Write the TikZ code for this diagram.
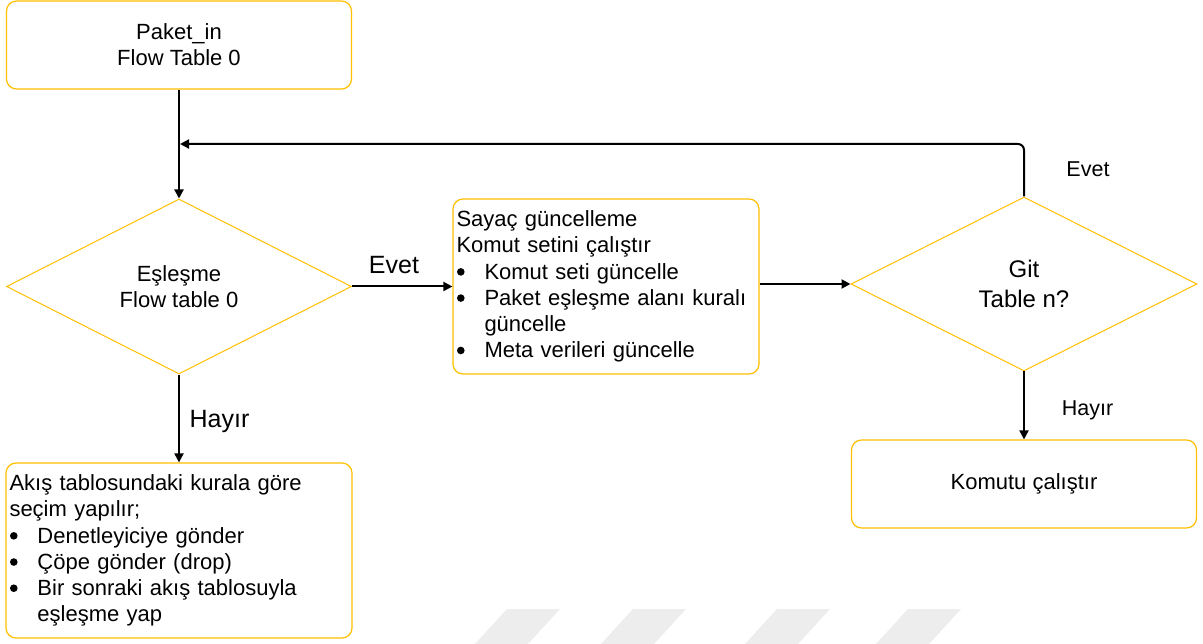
\documentclass[tikz,border=0pt]{standalone}
\usepackage{fontspec}
\setmainfont{Liberation Sans}
\usetikzlibrary{shapes.geometric,arrows.meta}
\definecolor{boxgold}{RGB}{255,192,0}
\definecolor{markgray}{RGB}{237,237,237}
% round bullet with a fixed hanging indent, and the matching indent for wrapped lines
\newcommand{\bul}{\makebox[28pt][l]{\hspace{0.5pt}\raisebox{3.4pt}{\tikz\fill[black] (0pt,0pt) circle[radius=3.8pt];}}}
\newcommand{\cont}{\hspace*{28pt}}

\begin{document}
\begin{tikzpicture}[x=1pt,y=-1pt,
  box/.style={draw=boxgold,line width=1.2pt,rounded corners=10pt,fill=white,inner sep=0pt},
  textbox/.style={box,inner xsep=3.5pt,inner ysep=0pt,align=left},
  decision/.style={diamond,shape aspect=2,draw=boxgold,line width=1pt,inner sep=0pt,fill=white,align=center},
  body/.style={font=\fontsize{22}{26.2}\selectfont},
  big/.style={font=\fontsize{24}{30}\selectfont},
  arrow/.style={line width=2pt,-{Triangle[length=9pt,width=9pt]}},
  lbl/.style={inner sep=0pt},
  lblbig/.style={lbl,font=\fontsize{25}{30}\selectfont},
  lblsmall/.style={lbl,font=\fontsize{21.5}{26}\selectfont}]

\useasboundingbox[fill=white] (0,0) rectangle (1203,644);

% faint stripes along the bottom edge
\foreach \xa in {507,633,777,908}
  \fill[markgray] (\xa,609) -- ++(53,0) -- ++(-32,35) -- ++(-53,0) -- cycle;

% boxes and decisions
\node[box,body,minimum width=345pt,minimum height=88pt,align=center] (start) at (179,45)
  {Paket\_in\\Flow Table 0};
\node[decision,body,minimum width=345pt,minimum height=175pt] (match) at (179,286.5)
  {Eşleşme\\Flow table 0};
\node[textbox,body,text width=299pt,minimum height=175pt] (update) at (606,286.5)
  {Sayaç güncelleme\\
   Komut setini çalıştır\\
   \bul Komut seti güncelle\\
   \bul Paket eşleşme alanı kuralı\\
   \cont güncelle\\
   \bul Meta verileri güncelle};
\node[decision,big,minimum width=346pt,minimum height=174pt] (check) at (1024,284)
  {Git\\Table n?};
\node[box,body,minimum width=345pt,minimum height=88pt] (run) at (1024,484)
  {Komutu çalıştır};
\node[textbox,body,text width=339pt,minimum height=175pt] (choose) at (179,550.5)
  {Akış tablosundaki kurala göre\\
   seçim yapılır;\\
   \bul Denetleyiciye gönder\\
   \bul Çöpe gönder (drop)\\
   \bul Bir sonraki akış tablosuyla\\
   \cont eşleşme yap};

% connectors
\coordinate (merge) at (180,144);
\draw[arrow] (start) -- (match);
\draw[arrow] (match) -- (update);
\draw[arrow] (update.east |- check.west) -- (check.west);
\draw[arrow] (check) -- (run);
\draw[arrow] (match) -- (choose);
\draw[arrow,rounded corners=6pt] (check.north) |- (merge);

% connector labels
\node[lblbig] (yes1) at (394,265) {Evet};
\node[lblsmall] (yes2) at (1088,169.5) {Evet};
\node[lblbig] (no1) at (219.5,421) {Hayır};
\node[lblsmall] (no2) at (1087.5,410) {Hayır};
\end{tikzpicture}
\end{document}
